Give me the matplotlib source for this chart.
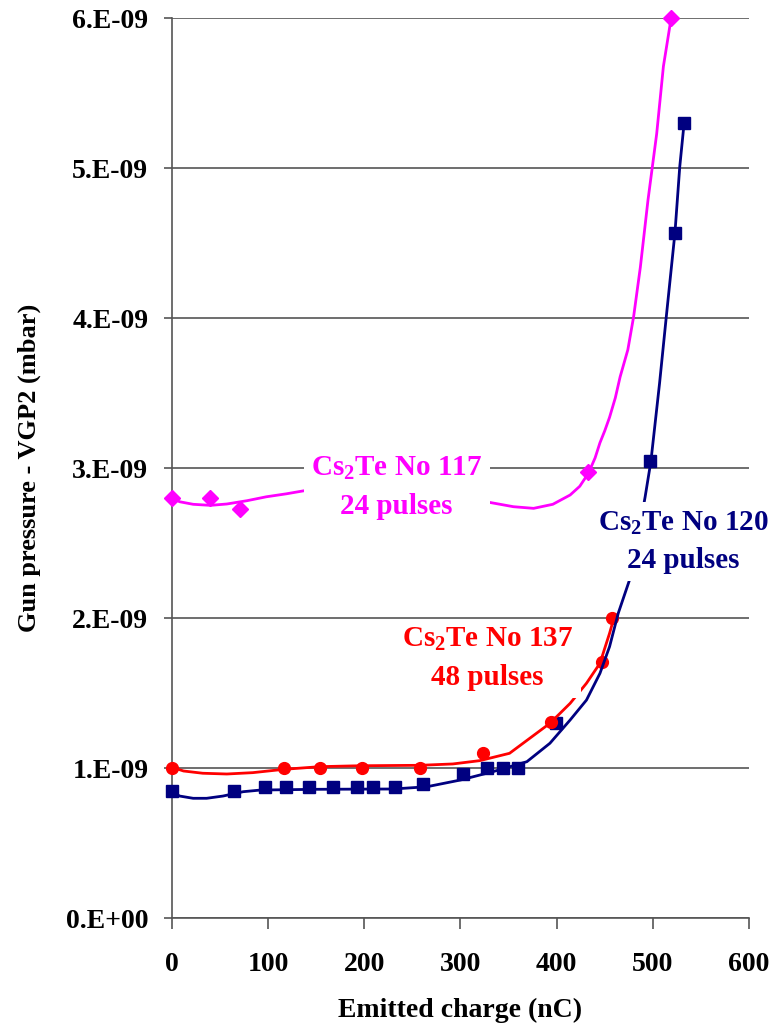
import matplotlib
matplotlib.use("Agg")
import matplotlib.pyplot as plt

plt.rcParams['font.family'] = ['Liberation Serif', 'DejaVu Serif']
plt.rcParams['font.weight'] = 'bold'
plt.rcParams['mathtext.fontset'] = 'custom'
plt.rcParams['mathtext.rm'] = 'Liberation Serif:bold'
plt.rcParams['mathtext.bf'] = 'Liberation Serif:bold'
plt.rcParams['mathtext.it'] = 'Liberation Serif:bold'
plt.rcParams['mathtext.default'] = 'rm'

# ---- data: measured points ----
m117_x = [0, 40, 71, 433, 519]
m117_y = [2.80e-9, 2.80e-9, 2.73e-9, 2.975e-9, 6.00e-9]

m120_x = [0, 64, 97, 118.5, 142, 167, 192, 209, 232, 261, 303, 328, 344, 360, 399, 497.5, 523, 532.5]
m120_y = [0.85e-9, 0.85e-9, 0.873e-9, 0.873e-9, 0.873e-9, 0.873e-9, 0.873e-9, 0.878e-9,
          0.873e-9, 0.893e-9, 0.965e-9, 1.00e-9, 1.00e-9, 1.00e-9, 1.30e-9, 3.05e-9, 4.57e-9, 5.30e-9]

m137_x = [0, 116.5, 154, 198, 258, 323, 394, 447, 458]
m137_y = [1.00e-9, 1.00e-9, 1.00e-9, 1.00e-9, 1.00e-9, 1.10e-9, 1.31e-9, 1.71e-9, 2.00e-9]

# ---- trend curves (units of 1e-9 mbar) ----
t117_x = [0, 8, 22, 40, 57, 78, 98, 119, 137, 180, 230, 280, 330, 355, 376, 396, 414, 424, 433,
          440, 445, 450, 455, 461, 466, 474, 480, 487, 495, 504, 511, 519]
t117_y = [2.80, 2.777, 2.76, 2.753, 2.762, 2.784, 2.81, 2.83, 2.85, 2.88, 2.88, 2.84, 2.773,
          2.744, 2.733, 2.76, 2.822, 2.88, 2.967, 3.07, 3.17, 3.25, 3.34, 3.47, 3.61, 3.79,
          4.01, 4.34, 4.79, 5.23, 5.68, 6.00]

t120_x = [0, 8, 22, 36, 53, 74, 92, 150, 230, 265, 300, 334, 369, 393, 414, 431, 445, 455,
          464, 476, 484, 492, 498, 507, 514, 523, 528, 532.5]
t120_y = [0.844, 0.815, 0.80, 0.80, 0.815, 0.844, 0.855, 0.86, 0.862, 0.877, 0.922, 0.978,
          1.044, 1.167, 1.322, 1.455, 1.633, 1.811, 2.033, 2.26, 2.52, 2.81, 3.047, 3.567,
          4.011, 4.57, 5.011, 5.30]

t137_x = [0, 12, 32, 57, 84, 116, 154, 195, 258, 292, 320, 351, 372, 393, 414, 431, 445, 455, 459]
t137_y = [1.007, 0.982, 0.967, 0.962, 0.971, 0.993, 1.011, 1.017, 1.02, 1.029, 1.051, 1.10,
          1.20, 1.30, 1.433, 1.567, 1.70, 1.90, 1.99]

x_ticks = [0, 100, 200, 300, 400, 500, 600]
y_ticks = [0, 1e-9, 2e-9, 3e-9, 4e-9, 5e-9, 6e-9]
y_ticklabels = ['0.E+00', '1.E-09', '2.E-09', '3.E-09', '4.E-09', '5.E-09', '6.E-09']

C117 = '#FF00FF'
C120 = '#000080'
C137 = '#FF0000'

fig = plt.figure(figsize=(7.73, 10.26), dpi=100)
ax = fig.add_axes([172/773, 1 - 918.3/1026, (749-172)/773, (918.3-18.3)/1026])

ax.set_xlim(0, 600)
ax.set_ylim(0, 6e-9)
ax.set_xticks(x_ticks)
ax.set_yticks(y_ticks)
ax.set_yticklabels(y_ticklabels)
ax.yaxis.grid(True, color='#555555', lw=1.2, zorder=0)
ax.set_axisbelow(True)
for s in ['top', 'right']:
    ax.spines[s].set_visible(False)
for s in ['left', 'bottom']:
    ax.spines[s].set_color('#555555')
    ax.spines[s].set_linewidth(1.2)
ax.tick_params(axis='y', direction='out', length=6, width=1.2, color='#555555', pad=11, labelsize=20)
ax.tick_params(axis='x', direction='out', length=8, width=1.2, color='#555555', pad=16, labelsize=20)
for lab in ax.get_xticklabels() + ax.get_yticklabels():
    lab.set_fontweight('bold')

ax.set_xlabel('Emitted charge (nC)', fontsize=20, fontweight='bold', labelpad=15)
ax.set_ylabel('Gun pressure - VGP2 (mbar)', fontsize=19, fontweight='bold', labelpad=18)

# markers
ax.plot(m117_x, m117_y, linestyle='none', marker='D', ms=8, color=C117, clip_on=False, zorder=3)
ax.plot(m120_x, m120_y, linestyle='none', marker='s', ms=8, color=C120, clip_on=False, zorder=3)
ax.plot(m137_x, m137_y, linestyle='none', marker='o', ms=8.5, color=C137, clip_on=False, zorder=3)

# trend curves
ax.plot(t117_x, [v * 1e-9 for v in t117_y], color=C117, lw=2, zorder=4, clip_on=False)
ax.plot(t137_x, [v * 1e-9 for v in t137_y], color=C137, lw=2, zorder=4, clip_on=False)
ax.plot(t120_x, [v * 1e-9 for v in t120_y], color=C120, lw=2, zorder=4, clip_on=False)

box = dict(boxstyle='square,pad=0.25', facecolor='white', edgecolor='none')
ax.text(233.7, 2.872e-9, 'Cs$_2$Te No 117\n24 pulses', color=C117, fontsize=21, fontweight='bold',
        ha='center', va='center', ma='center', bbox=box, zorder=6, linespacing=1.5)
ax.text(328.3, 1.732e-9, 'Cs$_2$Te No 137\n48 pulses', color=C137, fontsize=21, fontweight='bold',
        ha='center', va='center', ma='center', bbox=box, zorder=6, linespacing=1.5)
ax.text(531.7, 2.51e-9, 'Cs$_2$Te No 120\n24 pulses', color=C120, fontsize=21, fontweight='bold',
        ha='center', va='center', ma='center', bbox=box, zorder=6, linespacing=1.5)

fig.savefig('out.png', dpi=100)
